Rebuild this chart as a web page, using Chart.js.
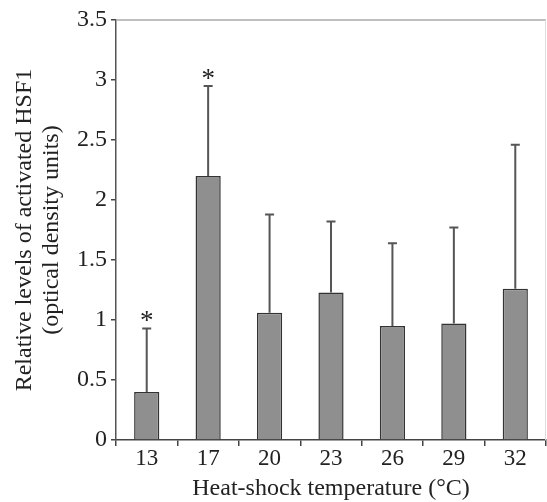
<!DOCTYPE html>
<html>
<head>
<meta charset="utf-8">
<script src="https://cdn.jsdelivr.net/npm/chart.js@4/dist/chart.umd.min.js"></script>
<style>
  html, body { margin: 0; padding: 0; background: #fff; }
  #wrap { width: 547px; height: 502px; position: relative; }
</style>
</head>
<body>
<div id="wrap"><canvas id="c" width="547" height="502"></canvas></div>
<script>
const categories = ['13', '17', '20', '23', '26', '29', '32'];
const means = [0.40, 2.20, 1.06, 1.23, 0.95, 0.97, 1.26];
const errors = [0.53, 0.75, 0.82, 0.59, 0.69, 0.80, 1.20];
const significant = [true, true, false, false, false, false, false];
const yTicks = [0, 0.5, 1, 1.5, 2, 2.5, 3, 3.5];

const FONT = '"Liberation Serif", "Times New Roman", serif';

const errorBarPlugin = {
  id: 'errorBars',
  afterDatasetsDraw(chart) {
    const ctx = chart.ctx;
    const meta = chart.getDatasetMeta(0);
    const y = chart.scales.y;
    ctx.save();
    meta.data.forEach((bar, i) => {
      const x = bar.x;
      const yTop = y.getPixelForValue(means[i] + errors[i]);
      const yBase = y.getPixelForValue(means[i]);
      ctx.strokeStyle = '#555';
      ctx.lineWidth = 2;
      ctx.beginPath();
      ctx.moveTo(x, yBase);
      ctx.lineTo(x, yTop);
      ctx.moveTo(x - 4.5, yTop);
      ctx.lineTo(x + 4.5, yTop);
      ctx.stroke();
      if (significant[i]) {
        ctx.fillStyle = '#222';
        ctx.font = '27px ' + FONT;
        ctx.textAlign = 'center';
        ctx.textBaseline = 'alphabetic';
        ctx.fillText('*', x, yTop + 1);
      }
    });
    ctx.restore();
  }
};

const framePlugin = {
  id: 'frame',
  afterDraw(chart) {
    const a = chart.chartArea;
    const ctx = chart.ctx;
    ctx.save();
    ctx.strokeStyle = '#aaa';
    ctx.lineWidth = 1.5;
    ctx.beginPath();
    ctx.moveTo(a.left, a.top);
    ctx.lineTo(a.right, a.top);
    ctx.stroke();
    ctx.strokeStyle = '#ddd';
    ctx.lineWidth = 1;
    ctx.beginPath();
    ctx.moveTo(a.right - 0.5, a.top);
    ctx.lineTo(a.right - 0.5, a.bottom);
    ctx.stroke();
    ctx.restore();
  }
};

new Chart(document.getElementById('c'), {
  type: 'bar',
  data: {
    labels: categories,
    datasets: [{
      data: means,
      backgroundColor: '#8f8f8f',
      borderColor: '#333',
      borderWidth: 1.5,
      categoryPercentage: 1,
      barPercentage: 0.41
    }]
  },
  options: {
    responsive: false,
    animation: false,
    devicePixelRatio: 1,
    layout: { padding: { top: 20, right: 1, left: 0, bottom: 0 } },
    plugins: {
      legend: { display: false },
      tooltip: { enabled: false }
    },
    scales: {
      x: {
        grid: { display: true, drawOnChartArea: false, drawTicks: true, tickLength: 6, color: '#444', lineWidth: 1.5, offset: true },
        border: { display: true, color: '#444', width: 1.5 },
        ticks: { color: '#222', font: { family: FONT, size: 23, lineHeight: 1.1 }, padding: 0 },
        title: { display: true, text: 'Heat-shock temperature (°C)', color: '#222', font: { family: FONT, size: 24, lineHeight: 1.1 }, padding: { top: 0, bottom: 0 } },
        afterFit(scale) { scale.height = 62; }
      },
      y: {
        min: 0, max: 3.5,
        afterBuildTicks(scale) { scale.ticks = yTicks.map(v => ({ value: v })); },
        grid: { display: true, drawOnChartArea: false, drawTicks: true, tickLength: 5, color: '#444', lineWidth: 1.5 },
        border: { display: true, color: '#555', width: 1.5 },
        ticks: { color: '#222', font: { family: FONT, size: 24 }, padding: 4, callback: v => String(v) },
        title: { display: true, text: ['Relative levels of activated HSF1', '(optical density units)'], color: '#222', font: { family: FONT, size: 24, lineHeight: 1.1 }, padding: { top: 12, bottom: 4 } },
        afterFit(scale) { scale.width = 116; }
      }
    }
  },
  plugins: [errorBarPlugin, framePlugin]
});
</script>
</body>
</html>
